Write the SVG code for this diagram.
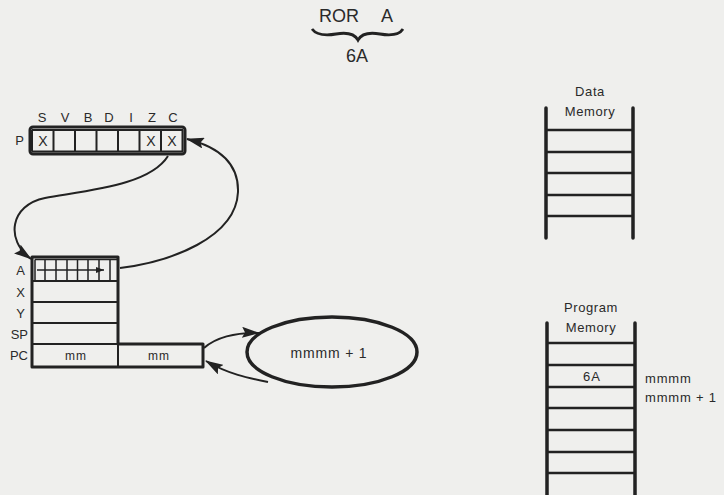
<svg xmlns="http://www.w3.org/2000/svg" width="724" height="495" viewBox="0 0 724 495">
<style>
text{font-family:"Liberation Sans",Arial,sans-serif;fill:#2a2a2a}
.t16{font-size:18px;text-anchor:middle}
.t12{font-size:13px;text-anchor:middle}
.lbl{font-size:13px;text-anchor:end}
.mem{font-size:13px;text-anchor:middle;letter-spacing:0.6px}
.box{fill:none;stroke:#222;stroke-width:3;stroke-linejoin:round}
.ln{stroke:#222;stroke-width:2;fill:none}
.thin{stroke:#222;stroke-width:1.5;fill:none}
.rail{stroke:#222;stroke-width:3.5;fill:none;stroke-linecap:round}
.rung{stroke:#222;stroke-width:2.5}
.conn{fill:none;stroke:#222;stroke-width:2}
</style>
<defs>
<marker id="ah" viewBox="0 0 18 11" refX="17" refY="5.5" markerWidth="18" markerHeight="11" markerUnits="userSpaceOnUse" orient="auto">
<path d="M0,0 L18,5.5 L0,11 L3,5.5 Z" fill="#222"/>
</marker>
<marker id="sm" viewBox="0 0 8 6" refX="8" refY="3" markerWidth="8" markerHeight="6" markerUnits="userSpaceOnUse" orient="auto">
<path d="M0,0 L8,3 L0,6 Z" fill="#222"/>
</marker>
</defs>
<rect width="724" height="495" fill="#efefed"/>

<g id="title">
<text class="t16" x="339" y="22">ROR</text>
<text class="t16" x="387" y="22">A</text>
<path d="M312,29 Q318,37 336,34 Q353,31 358,40 Q363,31 380,34 Q398,37 403,29" fill="none" stroke="#222" stroke-width="2.8"/>
<text class="t16" x="357" y="62">6A</text>
</g>

<g id="p-register">
<text class="t12" x="42" y="122">S</text>
<text class="t12" x="65" y="122">V</text>
<text class="t12" x="88" y="122">B</text>
<text class="t12" x="109" y="122">D</text>
<text class="t12" x="131" y="122">I</text>
<text class="t12" x="152" y="122">Z</text>
<text class="t12" x="173" y="122">C</text>
<text class="lbl" x="24" y="145">P</text>
<rect class="box" x="30" y="127" width="155" height="27" rx="3"/>
<path class="ln" d="M32,130 H183 M32,151.5 H183 M32,130 V151.5 M53.5,130 V151.5 M75,130 V151.5 M96.5,130 V151.5 M118,130 V151.5 M139.5,130 V151.5 M161,130 V151.5 M182.5,130 V151.5"/>
<text class="t12" x="43" y="146" style="font-size:14px">X</text>
<text class="t12" x="151" y="146" style="font-size:14px">X</text>
<text class="t12" x="172" y="146" style="font-size:14px">X</text>
</g>

<g id="registers">
<text class="lbl" x="25" y="275">A</text>
<text class="lbl" x="25" y="297">X</text>
<text class="lbl" x="25" y="318">Y</text>
<text class="lbl" x="28" y="339">SP</text>
<text class="lbl" x="28" y="360">PC</text>
<path class="box" d="M32,257 H118 V344 H203 V367 H32 Z"/>
<path class="ln" d="M32,281 H118 M32,302 H118 M32,323 H118 M32,344 H118 M118,344 V367"/>
<path class="thin" d="M35,259.5 V280 M45,259.5 V280 M56,259.5 V280 M67,259.5 V280 M77.5,259.5 V280 M88,259.5 V280 M99,259.5 V280 M110,259.5 V280 M35,259.5 H117"/>
<line class="thin" x1="37" y1="270" x2="104" y2="270" marker-end="url(#sm)"/>
<text class="t12" x="76" y="360" style="font-size:12px;letter-spacing:1px">mm</text>
<text class="t12" x="159" y="360" style="font-size:12px;letter-spacing:1px">mm</text>
</g>

<g id="incrementer">
<ellipse cx="332" cy="352" rx="85" ry="35" fill="none" stroke="#222" stroke-width="3.5"/>
<text class="t12" x="329" y="358" style="font-size:14px;letter-spacing:0.8px">mmmm + 1</text>
</g>

<g id="data-memory">
<text class="mem" x="590" y="96">Data</text>
<text class="mem" x="590" y="116">Memory</text>
<path class="rail" d="M546,108 V238 M633,108 V238"/>
<path class="rung" d="M546,130 H633 M546,152 H633 M546,173 H633 M546,195 H633 M546,216 H633"/>
</g>

<g id="program-memory">
<text class="mem" x="591" y="312">Program</text>
<text class="mem" x="591" y="332">Memory</text>
<path class="rail" d="M547,323 V497 M635,323 V497"/>
<path class="rung" d="M547,343 H635 M547,365 H635 M547,387 H635 M547,408 H635 M547,430 H635 M547,452 H635 M547,473 H635"/>
<text class="mem" x="592" y="381" style="letter-spacing:1px">6A</text>
<text x="645" y="383" style="font-size:13px;letter-spacing:0.8px">mmmm</text>
<text x="645" y="402" style="font-size:13px;letter-spacing:0.8px">mmmm + 1</text>
</g>

<g id="connectors">
<path class="conn" d="M168,156 C150,185 90,190 45,198 C10,205 5,240 31,259" marker-end="url(#ah)"/>
<path class="conn" d="M120,268 C170,262 236,238 238,192 C239,160 215,146 187,139" marker-end="url(#ah)"/>
<path class="conn" d="M204,348 C215,338 235,332 259,333" marker-end="url(#ah)"/>
<path class="conn" d="M268,382 C248,378 228,374 206,361" marker-end="url(#ah)"/>
</g>
</svg>
